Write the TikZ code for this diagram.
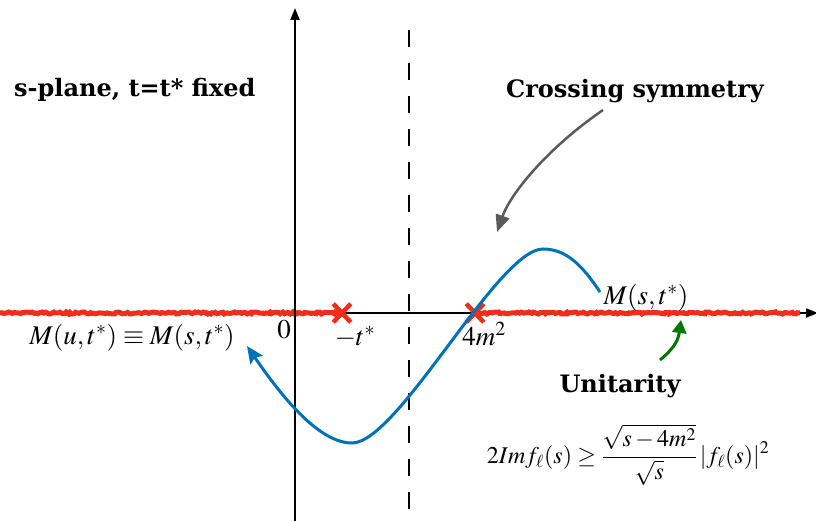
\documentclass[tikz,border=0pt]{standalone}
\usepackage{mathptmx}
\usepackage[no-math]{fontspec}
\newfontfamily\labfont{DejaVu Serif}
\usetikzlibrary{arrows.meta,decorations.pathmorphing,shapes.misc}
\definecolor{cblue}{RGB}{0,114,188}
\definecolor{cred}{RGB}{240,45,25}
\definecolor{cgreen}{RGB}{0,120,0}
\definecolor{cgray}{RGB}{90,90,90}
\tikzset{
  lab/.style={font=\labfont\bfseries\fontsize{24}{28}\selectfont, inner sep=0pt},
  mth/.style={font=\fontsize{27}{31}\selectfont, inner sep=0pt},
  axis/.style={line width=2pt, -{Triangle[length=12pt,width=9pt]}},
  redcut/.style={cred, line width=5pt, decorate, decoration={random steps, segment length=2pt, amplitude=1pt}},
  pole/.style={cross out, draw=cred, line width=4.5pt, minimum width=13pt, minimum height=14pt, inner sep=0pt},
  bluec/.style={cblue, line width=3pt},
}
\begin{document}
\pgfmathsetseed{7}
\begin{tikzpicture}[x=1pt,y=-1pt]
\useasboundingbox (0,0) rectangle (816,521);
% axes
\coordinate (xl) at (0,313);
\coordinate (xr) at (818,313);
\coordinate (yb) at (295,521);
\coordinate (yt) at (295,8);
\coordinate (dt) at (409,30);
\coordinate (db) at (409,512);
\draw[axis] (xl) -- (xr);
\draw[line width=2pt, dash pattern=on 17pt off 16pt] (dt) -- (db);
\draw[redcut] (0,313) -- (340,313);
\draw[redcut] (476,313) -- (800,313);
\draw[axis] (yb) -- (yt);
% poles
\node[pole] (p1) at (342,313) {};
\node[pole] (p2) at (475,313) {};
% labels
\node[lab, anchor=base west] (title) at (14,97) {s-plane, t=t* fixed};
\node[lab, anchor=base west] (cs) at (506,98) {Crossing symmetry};
\node[lab, anchor=base] (un) at (620,392) {Unitarity};
\node[mth, anchor=base] (zero) at (284,338) {$0$};
\node[mth, anchor=base] (mt) at (355,345) {$-t^{*}$};
\node[mth, anchor=base] (fm) at (484,345) {$4m^{2}$};
\node[mth, anchor=base] (mu) at (132,344) {$M(u,t^{*})\equiv M(s,t^{*})$};
\node[mth, anchor=base] (ms) at (646,304) {$M(s,t^{*})$};
\node[font=\fontsize{24}{28}\selectfont, inner sep=0pt] (fo) at (628,455)
  {$\displaystyle 2Imf_{\ell}(s)\geq\frac{\sqrt{s-4m^{2}}}{\sqrt{s}}\,|f_{\ell}(s)|^{2}$};
% blue curve
\draw[bluec, -{Stealth[length=17pt,width=15pt,inset=3pt]}]
  (600,292) .. controls (582,265) and (566,249) .. (543,249)
  .. controls (498,249) and (398,443) .. (352,443)
  .. controls (320,443) and (284,400) .. (247,346);
% crossing symmetry arrow
\coordinate (csa) at (603,110);
\coordinate (cst) at (497,232);
\draw[cgray, line width=2.5pt, -{Triangle[length=17pt,width=14pt]}] (csa) .. controls (545,150) and (510,195) .. (cst);
% unitarity arrow
\coordinate (ua) at (660,360);
\coordinate (ut) at (681,320);
\draw[cgreen, line width=3pt, -{Triangle[length=13pt,width=14pt]}] (ua) .. controls (672,350) and (678,342) .. (ut);
\end{tikzpicture}
\end{document}
